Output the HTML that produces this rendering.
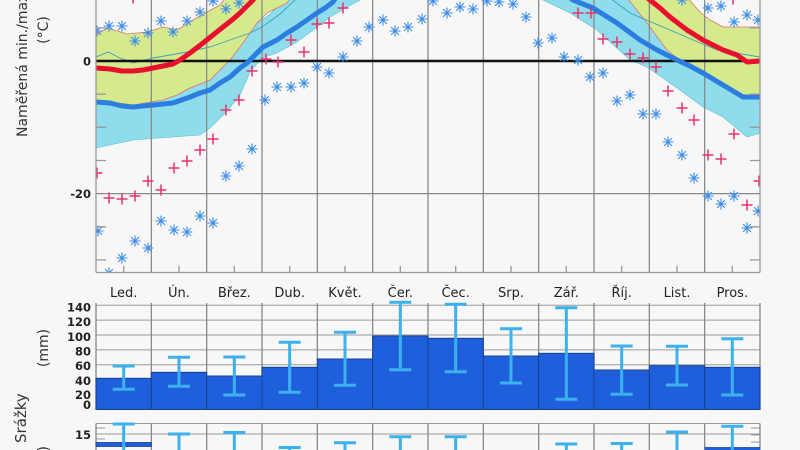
<!DOCTYPE html>
<html><head><meta charset="utf-8"><style>
html,body{margin:0;padding:0;background:#f7f7f7;width:800px;height:450px;overflow:hidden}
svg{display:block}
text{font-family:"DejaVu Sans","Liberation Sans",sans-serif;fill:#222}
.tk{font-size:11.5px;font-weight:bold;text-anchor:end}
.mo{font-size:13px;text-anchor:middle}
.yl{font-size:14px;fill:#333}
</style></head><body>
<svg width="800" height="450" viewBox="0 0 800 450" xmlns="http://www.w3.org/2000/svg" style="overflow:hidden">
<defs>
<clipPath id="ct"><rect x="96" y="0" width="664" height="272"/></clipPath>
<g id="ast"><path d="M0,-5.5V5.5M-5.5,0H5.5M-3.9,-3.9L3.9,3.9M-3.9,3.9L3.9,-3.9" stroke="#3a8ce8" stroke-width="1.1" fill="none"/></g>
<g id="pl"><path d="M-5.5,0H5.5M0,-5.5V5.5" stroke="#e8336b" stroke-width="1.5" fill="none"/></g>
</defs>
<rect width="800" height="450" fill="#f7f7f7"/>

<!-- TEMPERATURE CHART -->
<g clip-path="url(#ct)">
<polygon fill="#8fdcec" stroke="#5cbfd6" stroke-width="0.6" points="96,62 133,68 173,66 200,56 227,42 250,28 270,14 290,-5 627,-5 647,20 667,45 700,70 760,90 760,133 747,137 723,117 703,107 680,90 647,67 630,60 597,30 570,13 543,0 540,-5 362,-5 360,0 347,7 330,17 317,27 297,42 277,53 262,58 250,72 240,95 226,112 210,128 200,135 173,137 133,140 96,148"/>
<polygon fill="#d5ea8c" stroke="#e07070" stroke-width="0.8" points="96,35 107,28 117,31 127,34 137,33 147,32 163,27 177,30 193,20 207,12 220,5 228,-5 292,-5 287,3 267,13 257,23 243,43 230,60 210,80 190,88 177,95 163,100 133,105 96,100"/>
<polygon fill="#d5ea8c" stroke="#e07070" stroke-width="0.8" points="625,-5 685,-5 700,12 710,20 723,27 760,27 760,95 743,95 723,83 703,71 677,58 667,50 647,23"/>
<polyline fill="none" stroke="#3aa0b8" stroke-width="0.9" points="96,57 108,52 120,58 133,63 153,58 187,52 210,47 230,40 250,33 262,27 280,14 297,-2"/>
<polyline fill="none" stroke="#3aa0b8" stroke-width="0.9" points="610,-2 630,13 677,33 717,50 760,57"/>

<g stroke="#8a8a8a" stroke-width="1.3">
<line x1="151.33" y1="0" x2="151.33" y2="272"/><line x1="206.67" y1="0" x2="206.67" y2="272"/>
<line x1="262" y1="0" x2="262" y2="272"/><line x1="317.33" y1="0" x2="317.33" y2="272"/>
<line x1="372.67" y1="0" x2="372.67" y2="272"/><line x1="428" y1="0" x2="428" y2="272"/>
<line x1="483.33" y1="0" x2="483.33" y2="272"/><line x1="538.67" y1="0" x2="538.67" y2="272"/>
<line x1="594" y1="0" x2="594" y2="272"/><line x1="649.33" y1="0" x2="649.33" y2="272"/>
<line x1="704.67" y1="0" x2="704.67" y2="272"/>
<line x1="96" y1="193.6" x2="760" y2="193.6"/>
</g>
<line x1="96" y1="61" x2="760" y2="61" stroke="#111" stroke-width="2.5"/>

<polyline fill="none" stroke="#e8102e" stroke-width="5" stroke-linejoin="round" points="96,68 110,69 122,71 133,71 143,70 153,68 163,66 173,64 180,60 190,53 203,43 213,35 223,27 232,20 240,13 248,5 253,0 256,-4"/>
<polyline fill="none" stroke="#e8102e" stroke-width="5" stroke-linejoin="round" points="645,-4 650,0 660,8 670,17 687,30 703,40 713,45 723,50 737,55 747,62 760,61"/>
<polyline fill="none" stroke="#2b7ddf" stroke-width="5" stroke-linejoin="round" points="96,102 110,103 122,106 133,107 143,106 153,105 163,104 173,103 190,97 200,93 210,90 220,83 230,77 240,68 247,63 255,55 263,47 277,40 287,33 297,27 307,20 317,13 325,8 333,2 337,-4"/>
<polyline fill="none" stroke="#2b7ddf" stroke-width="5" stroke-linejoin="round" points="568,-4 573,0 593,8 617,23 640,40 657,50 677,60 690,66 703,73 723,85 743,97 760,97"/>

<use href="#pl" x="97" y="173"/><use href="#pl" x="109" y="198"/><use href="#pl" x="122" y="199"/><use href="#pl" x="135" y="196"/>
<use href="#pl" x="148" y="181"/><use href="#pl" x="161" y="190"/><use href="#pl" x="174" y="168"/><use href="#pl" x="187" y="161"/>
<use href="#pl" x="200" y="150"/><use href="#pl" x="213" y="139"/><use href="#pl" x="226" y="110"/><use href="#pl" x="239" y="100"/>
<use href="#pl" x="252" y="71"/><use href="#pl" x="266" y="59"/><use href="#pl" x="278" y="62"/><use href="#pl" x="291" y="40"/>
<use href="#pl" x="304" y="52"/><use href="#pl" x="317" y="24"/><use href="#pl" x="329" y="23"/><use href="#pl" x="343" y="8"/>
<use href="#pl" x="133" y="-2"/><use href="#pl" x="733" y="-1"/>
<use href="#pl" x="578" y="13"/><use href="#pl" x="591" y="13"/><use href="#pl" x="603" y="39"/><use href="#pl" x="617" y="42"/>
<use href="#pl" x="630" y="54"/><use href="#pl" x="643" y="58"/><use href="#pl" x="656" y="67"/><use href="#pl" x="668" y="91"/>
<use href="#pl" x="682" y="108"/><use href="#pl" x="694" y="120"/><use href="#pl" x="734" y="134"/><use href="#pl" x="708" y="155"/>
<use href="#pl" x="721" y="159"/><use href="#pl" x="747" y="205"/><use href="#pl" x="759" y="181"/>

<use href="#ast" x="97" y="31"/><use href="#ast" x="109" y="26"/><use href="#ast" x="122" y="26"/><use href="#ast" x="135" y="41"/>
<use href="#ast" x="148" y="33"/><use href="#ast" x="161" y="21"/><use href="#ast" x="173" y="32"/><use href="#ast" x="187" y="21"/>
<use href="#ast" x="200" y="12"/><use href="#ast" x="213" y="1"/><use href="#ast" x="226" y="9"/><use href="#ast" x="239" y="3"/>
<use href="#ast" x="98" y="231"/><use href="#ast" x="109" y="273"/><use href="#ast" x="122" y="258"/><use href="#ast" x="135" y="241"/>
<use href="#ast" x="148" y="248"/><use href="#ast" x="161" y="221"/><use href="#ast" x="174" y="230"/><use href="#ast" x="187" y="232"/>
<use href="#ast" x="200" y="216"/><use href="#ast" x="213" y="223"/><use href="#ast" x="226" y="176"/><use href="#ast" x="239" y="166"/>
<use href="#ast" x="252" y="149"/><use href="#ast" x="265" y="100"/><use href="#ast" x="277" y="87"/><use href="#ast" x="291" y="87"/>
<use href="#ast" x="304" y="83"/><use href="#ast" x="317" y="67"/><use href="#ast" x="329" y="73"/><use href="#ast" x="343" y="57"/>
<use href="#ast" x="357" y="41"/><use href="#ast" x="369" y="27"/><use href="#ast" x="383" y="20"/><use href="#ast" x="395" y="31"/>
<use href="#ast" x="408" y="27"/><use href="#ast" x="422" y="19"/><use href="#ast" x="433" y="1"/><use href="#ast" x="447" y="13"/>
<use href="#ast" x="460" y="7"/><use href="#ast" x="473" y="9"/><use href="#ast" x="487" y="1"/><use href="#ast" x="499" y="2"/>
<use href="#ast" x="513" y="4"/><use href="#ast" x="526" y="17"/><use href="#ast" x="538" y="43"/><use href="#ast" x="552" y="38"/>
<use href="#ast" x="564" y="57"/><use href="#ast" x="578" y="60"/><use href="#ast" x="590" y="77"/><use href="#ast" x="603" y="73"/>
<use href="#ast" x="617" y="101"/><use href="#ast" x="630" y="95"/><use href="#ast" x="643" y="114"/><use href="#ast" x="656" y="114"/>
<use href="#ast" x="668" y="142"/><use href="#ast" x="682" y="155"/><use href="#ast" x="694" y="178"/><use href="#ast" x="708" y="196"/>
<use href="#ast" x="721" y="204"/><use href="#ast" x="734" y="196"/><use href="#ast" x="747" y="228"/><use href="#ast" x="758" y="211"/>
<use href="#ast" x="682" y="0"/><use href="#ast" x="708" y="8"/><use href="#ast" x="721" y="6"/><use href="#ast" x="734" y="22"/>
<use href="#ast" x="747" y="15"/><use href="#ast" x="758" y="20"/>
</g>

<g stroke="#999" stroke-width="1.3">
<line x1="96" y1="0" x2="96" y2="272.5"/><line x1="760" y1="0" x2="760" y2="272.5"/>
<line x1="96" y1="272.5" x2="760" y2="272.5"/>
<path d="M96,27.9h10M96,94.2h10M96,127.3h10M96,160.5h10M96,226.8h10M96,259.9h10M750,27.9h10M750,94.2h10M750,127.3h10M750,160.5h10M750,226.8h10M750,259.9h10"/>
<path d="M123.67,266v6M179,266v6M234.33,266v6M289.67,266v6M345,266v6M400.33,266v6M455.67,266v6M511,266v6M566.33,266v6M621.67,266v6M677,266v6M732.33,266v6"/>
</g>
<text class="tk" x="91" y="65.5">0</text>
<text class="tk" x="91" y="198">-20</text>

<text class="mo" x="123.67" y="297">Led.</text><text class="mo" x="179" y="297">Ún.</text>
<text class="mo" x="234.33" y="297">Břez.</text><text class="mo" x="289.67" y="297">Dub.</text>
<text class="mo" x="345" y="297">Květ.</text><text class="mo" x="400.33" y="297">Čer.</text>
<text class="mo" x="455.67" y="297">Čec.</text><text class="mo" x="511" y="297">Srp.</text>
<text class="mo" x="566.33" y="297">Zář.</text><text class="mo" x="621.67" y="297">Říj.</text>
<text class="mo" x="677" y="297">List.</text><text class="mo" x="732.33" y="297">Pros.</text>

<text class="yl" transform="translate(27,137) rotate(-90)">Naměřená min./max. teplota</text>
<text class="yl" text-anchor="middle" transform="translate(48,30) rotate(-90)">(°C)</text>
<text class="yl" text-anchor="middle" transform="translate(48,348) rotate(-90)">(mm)</text>
<text class="yl" style="font-size:15px" transform="translate(26,443) rotate(-90)">Srážky</text>
<text class="yl" text-anchor="end" transform="translate(48,446) rotate(-90)">(dny)</text>

<!-- PRECIP CHART -->
<g stroke="#9a9a9a" stroke-width="1">
<line x1="96" y1="305.2" x2="760" y2="305.2"/><line x1="96" y1="320.1" x2="760" y2="320.1"/>
<line x1="96" y1="335" x2="760" y2="335"/><line x1="96" y1="349.9" x2="760" y2="349.9"/>
<line x1="96" y1="364.8" x2="760" y2="364.8"/><line x1="96" y1="379.7" x2="760" y2="379.7"/>
<line x1="96" y1="394.6" x2="760" y2="394.6"/>
</g>
<g stroke="#888" stroke-width="1.3">
<line x1="96" y1="303" x2="96" y2="410"/><line x1="760" y1="303" x2="760" y2="410"/>
<line x1="151.33" y1="303" x2="151.33" y2="410"/><line x1="206.67" y1="303" x2="206.67" y2="410"/>
<line x1="262" y1="303" x2="262" y2="410"/><line x1="317.33" y1="303" x2="317.33" y2="410"/>
<line x1="372.67" y1="303" x2="372.67" y2="410"/><line x1="428" y1="303" x2="428" y2="410"/>
<line x1="483.33" y1="303" x2="483.33" y2="410"/><line x1="538.67" y1="303" x2="538.67" y2="410"/>
<line x1="594" y1="303" x2="594" y2="410"/><line x1="649.33" y1="303" x2="649.33" y2="410"/>
<line x1="704.67" y1="303" x2="704.67" y2="410"/>
</g>
<g fill="#1f5fdc" stroke="#17408f" stroke-width="1">
<rect x="96" y="378.3" width="55.33" height="31.2"/>
<rect x="151.33" y="372.3" width="55.33" height="37.2"/>
<rect x="206.67" y="376" width="55.33" height="33.5"/>
<rect x="262" y="367.3" width="55.33" height="42.2"/>
<rect x="317.33" y="359" width="55.33" height="50.5"/>
<rect x="372.67" y="336" width="55.33" height="73.5"/>
<rect x="428" y="338.3" width="55.33" height="71.2"/>
<rect x="483.33" y="356" width="55.33" height="53.5"/>
<rect x="538.67" y="353.3" width="55.33" height="56.2"/>
<rect x="594" y="370" width="55.33" height="39.5"/>
<rect x="649.33" y="365.7" width="55.33" height="43.8"/>
<rect x="704.67" y="367.3" width="55.33" height="42.2"/>
</g>
<g stroke="#3cb1ee" stroke-width="3" fill="none">
<path d="M123.67,366V389.3M112.67,366h22M112.67,389.3h22"/>
<path d="M179,357.3V386.3M168,357.3h22M168,386.3h22"/>
<path d="M234.33,357V395M223.33,357h22M223.33,395h22"/>
<path d="M289.67,342.3V392.3M278.67,342.3h22M278.67,392.3h22"/>
<path d="M345,332.3V385.3M334,332.3h22M334,385.3h22"/>
<path d="M400.33,302.3V369.7M389.33,302.3h22M389.33,369.7h22"/>
<path d="M455.67,304.3V371.7M444.67,304.3h22M444.67,371.7h22"/>
<path d="M511,328.7V383M500,328.7h22M500,383h22"/>
<path d="M566.33,307.7V399.3M555.33,307.7h22M555.33,399.3h22"/>
<path d="M621.67,346V394.3M610.67,346h22M610.67,394.3h22"/>
<path d="M677,346.3V385M666,346.3h22M666,385h22"/>
<path d="M732.33,338.7V395M721.33,338.7h22M721.33,395h22"/>
</g>
<text class="tk" x="91" y="311.5">140</text>
<text class="tk" x="91" y="326">120</text>
<text class="tk" x="91" y="341">100</text>
<text class="tk" x="91" y="355.5">80</text>
<text class="tk" x="91" y="370">60</text>
<text class="tk" x="91" y="385">40</text>
<text class="tk" x="91" y="399">20</text>
<text class="tk" x="91" y="409">0</text>

<!-- BOTTOM CHART -->
<g stroke="#9a9a9a" stroke-width="1">
<line x1="96" y1="423.5" x2="760" y2="423.5"/>
<line x1="96" y1="434" x2="760" y2="434"/>
<path d="M96,428h9M96,439h9M751,428h9M751,435h9M751,442h9"/>
</g>
<g stroke="#888" stroke-width="1.3">
<line x1="96" y1="423.5" x2="96" y2="450"/><line x1="760" y1="423.5" x2="760" y2="450"/>
<line x1="151.33" y1="423.5" x2="151.33" y2="450"/><line x1="206.67" y1="423.5" x2="206.67" y2="450"/>
<line x1="262" y1="423.5" x2="262" y2="450"/><line x1="317.33" y1="423.5" x2="317.33" y2="450"/>
<line x1="372.67" y1="423.5" x2="372.67" y2="450"/><line x1="428" y1="423.5" x2="428" y2="450"/>
<line x1="483.33" y1="423.5" x2="483.33" y2="450"/><line x1="538.67" y1="423.5" x2="538.67" y2="450"/>
<line x1="594" y1="423.5" x2="594" y2="450"/><line x1="649.33" y1="423.5" x2="649.33" y2="450"/>
<line x1="704.67" y1="423.5" x2="704.67" y2="450"/>
</g>
<rect x="96" y="442.5" width="55.33" height="4" fill="#1f5fdc" stroke="#17408f" stroke-width="0.8"/>
<rect x="704.67" y="447.5" width="55.33" height="2.5" fill="#1f5fdc"/>
<line x1="704.67" y1="447.5" x2="760" y2="447.5" stroke="#17408f" stroke-width="0.8"/>
<g stroke="#3cb1ee" stroke-width="3" fill="none">
<path d="M123.67,424V450M112.67,424h22"/>
<path d="M179,434V450M168,434h22"/>
<path d="M234.33,432.5V450M223.33,432.5h22"/>
<path d="M289.67,447.5V450M278.67,447.5h22"/>
<path d="M345,442.7V450M334,442.7h22"/>
<path d="M400.33,436.7V450M389.33,436.7h22"/>
<path d="M455.67,436.7V450M444.67,436.7h22"/>
<path d="M566.33,444V450M555.33,444h22"/>
<path d="M621.67,443.5V450M610.67,443.5h22"/>
<path d="M677,432V450M666,432h22"/>
<path d="M732.33,426.3V450M721.33,426.3h22"/>
</g>
<text class="tk" x="91" y="439">15</text>
</svg>
</body></html>
